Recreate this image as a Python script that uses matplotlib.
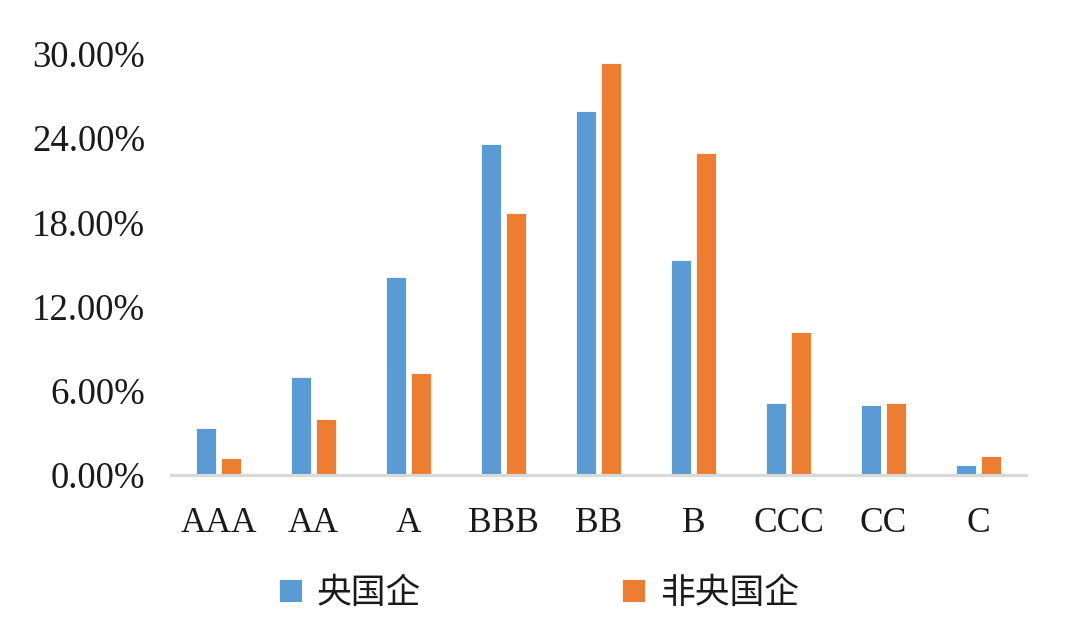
import matplotlib
matplotlib.use("Agg")
import matplotlib.pyplot as plt
import numpy as np
from matplotlib.ticker import FuncFormatter

categories = ["AAA", "AA", "A", "BBB", "BB", "B", "CCC", "CC", "C"]
central_soe = [3.34, 6.95, 14.1, 23.6, 25.95, 15.3, 5.16, 5.0, 0.71]
non_central_soe = [1.24, 4.0, 7.3, 18.7, 29.36, 22.98, 10.2, 5.16, 1.38]
series_names = ["央国企", "非央国企"]
yticks = [0, 6, 12, 18, 24, 30]

blue = "#5B9BD5"
orange = "#ED7D31"

fig = plt.figure(figsize=(10.8, 6.41), dpi=100)
ax = fig.add_axes([171/1080, 1-475/641, (1026-171)/1080, (475-54)/641])

x = np.arange(len(categories))
w = 0.215
off = 0.134
ax.bar(x - off, central_soe, width=w, color=blue, edgecolor="white", linewidth=0.6, label=series_names[0])
ax.bar(x + off, non_central_soe, width=w, color=orange, edgecolor="white", linewidth=0.6, label=series_names[1])

ax.set_xlim(-0.5, len(categories) - 0.5)
ax.set_ylim(0, 30)
ax.set_yticks(yticks)
ax.yaxis.set_major_formatter(FuncFormatter(lambda v, p: f"{v:.2f}%"))
ax.set_xticks(x)
ax.set_xticklabels(categories)

for s in ["top", "right", "left"]:
    ax.spines[s].set_visible(False)
ax.spines["bottom"].set_color("#D9D9D9")
ax.spines["bottom"].set_linewidth(2.2)
ax.tick_params(axis="both", length=0)
ax.tick_params(axis="y", pad=18.5)
ax.tick_params(axis="x", pad=23)
for lab in ax.get_yticklabels():
    lab.set_family(["Liberation Serif", "DejaVu Serif"])
    lab.set_fontsize(26.5)
    lab.set_color("#1a1a1a")
for lab in ax.get_xticklabels():
    lab.set_family(["Liberation Serif", "DejaVu Serif"])
    lab.set_fontsize(25.5)
    lab.set_color("#1a1a1a")

fig.legend(loc="center left", bbox_to_anchor=(279/1080, 1-593/641), ncol=2,
           frameon=False, borderpad=0, borderaxespad=0,
           handlelength=0.66, handleheight=0.66, handletextpad=0.43,
           columnspacing=5.8,
           prop={"family": ["Noto Sans CJK SC", "DejaVu Sans"], "size": 25},
           labelcolor="#1a1a1a")

fig.savefig("out.png", dpi=100)
